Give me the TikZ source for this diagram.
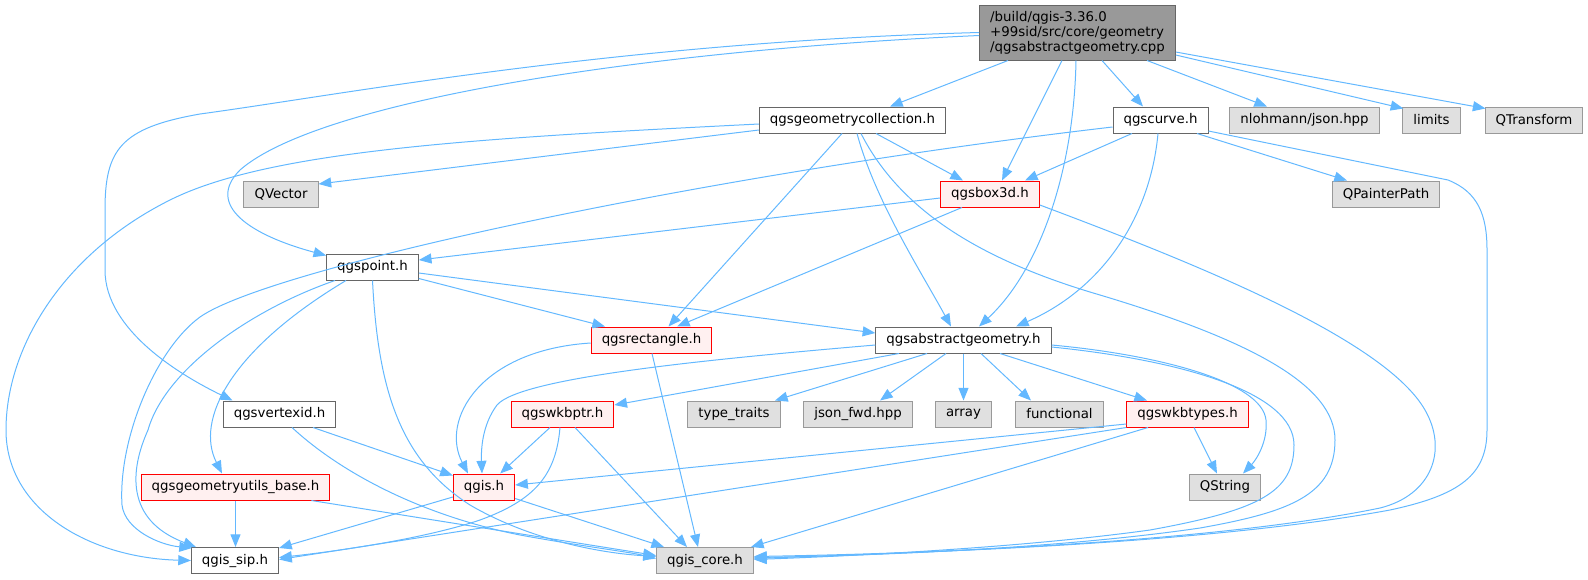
\documentclass[tikz,border=0pt]{standalone}
\usepackage{fontspec}
\setmainfont{DejaVu Sans}
\usepackage{tikz}
\usetikzlibrary{arrows.meta,calc}
\definecolor{edgeblue}{RGB}{99,184,255}
\definecolor{boxgray}{RGB}{102,102,102}
\definecolor{boxred}{RGB}{255,0,0}
\definecolor{boxpink}{RGB}{255,240,240}
\definecolor{sysgray}{RGB}{153,153,153}
\definecolor{syslight}{RGB}{224,224,224}
\definecolor{maingray}{RGB}{153,153,153}
\tikzstyle{arrow} = [line width=0.75pt, color=edgeblue, -{Triangle[length=9.5pt,width=7.5pt]}]
\tikzstyle{filebox} = [rectangle, draw=boxgray, fill=white, line width=0.75pt, minimum height=19.5pt, inner xsep=7.9pt, inner ysep=0pt, font=\fontsize{10}{11.25}\selectfont]
\tikzstyle{redbox} = [filebox, draw=boxred, fill=boxpink]
\tikzstyle{sysbox} = [filebox, draw=sysgray, fill=syslight]
\tikzstyle{mainbox} = [filebox, fill=maingray, align=left, minimum width=143.25pt, minimum height=41.25pt]

\begin{document}
\begin{tikzpicture}[x=0.75pt, y=-0.75pt]
\useasboundingbox (0,0) rectangle (1588,579);
% include files
\node[mainbox] (cpp) at (1077.5,32.5) {/build/qgis-3.36.0\\+99sid/src/core/geometry\\/qgsabstractgeometry.cpp};
\node[filebox] (geomcoll) at (852.5,120) {qgsgeometrycollection.h};
\node[filebox] (curve) at (1160.5,120) {qgscurve.h};
\node[sysbox] (json) at (1304.5,120) {nlohmann/json.hpp};
\node[sysbox] (limits) at (1431.5,120) {limits};
\node[sysbox] (qtransform) at (1534,120) {QTransform};
\node[sysbox] (qvector) at (281,194) {QVector};
\node[redbox] (box3d) at (990,194) {qgsbox3d.h};
\node[sysbox] (painterpath) at (1386,194) {QPainterPath};
\node[filebox] (point) at (372.5,267) {qgspoint.h};
\node[redbox] (rect) at (651.5,340) {qgsrectangle.h};
\node[filebox] (absgeom) at (963.5,340) {qgsabstractgeometry.h};
\node[filebox] (vertexid) at (279.5,414) {qgsvertexid.h};
\node[redbox] (wkbptr) at (562.5,414) {qgswkbptr.h};
\node[sysbox] (traits) at (734,414) {type\_traits};
\node[sysbox] (jsonfwd) at (858,414) {json\_fwd.hpp};
\node[sysbox] (array) at (963.5,414) {array};
\node[sysbox] (functional) at (1059.5,414) {functional};
\node[redbox] (wkbtypes) at (1187.5,414) {qgswkbtypes.h};
\node[redbox] (geomutils) at (235.5,487) {qgsgeometryutils\_base.h};
\node[redbox] (qgis) at (484,487) {qgis.h};
\node[sysbox] (qstring) at (1225,487) {QString};
\node[filebox] (sip) at (235,560.5) {qgis\_sip.h};
\node[sysbox] (core) at (705,560.5) {qgis\_core.h};

% from qgsabstractgeometry.cpp
\draw[arrow] ($(cpp.south)+(-69.5,0)$) -- ($(geomcoll.north)+(37.5,0)$);
\draw[arrow] ($(cpp.south)+(-15.5,0)$) -- ($(box3d.north)+(12,0)$);
\draw[arrow] ($(cpp.south)+(-1.5,0)$) .. controls (1074,170) and (1040,270) .. ($(absgeom.north)+(15.5,0)$);
\draw[arrow] ($(cpp.south)+(24.5,0)$) -- ($(curve.north)+(-17.5,0)$);
\draw[arrow] ($(cpp.south)+(69.5,0)$) -- ($(json.north)+(-37.5,0)$);
\draw[arrow] ($(cpp.east)+(0,22.5)$) -- ($(limits.north west)+(1,2)$);
\draw[arrow] ($(cpp.east)+(0,19.5)$) -- ($(qtransform.north west)+(1,2)$);
\draw[arrow] ($(cpp.west)+(0,3)$) .. controls (650,50) and (320,100) .. (240,170) .. controls (205,205) and (250,235) .. ($(point.north west)+(0,2)$);
\draw[arrow] (cpp.west) .. controls (620,42) and (340,95) .. (200,114) .. controls (120,128) and (105,150) .. (105,210) -- (105,270) .. controls (105,330) and (180,375) .. ($(vertexid.north)+(-47,0)$);

% from qgsgeometrycollection.h
\draw[arrow] ($(geomcoll.west)+(0,10)$) -- ($(qvector.east)+(0,-10)$);
\draw[arrow] ($(geomcoll.west)+(0,4)$) .. controls (480,138) and (270,150) .. (170,200) .. controls (60,255) and (6,350) .. (6,430) .. controls (6,510) and (90,558) .. (sip.west);
\draw[arrow] ($(geomcoll.south)+(23.5,0)$) -- ($(box3d.north)+(-27,0)$);
\draw[arrow] ($(geomcoll.south)+(-10.5,0)$) -- ($(rect.north)+(17,0)$);
\draw[arrow] ($(geomcoll.south)+(4.5,0)$) .. controls (875,200) and (920,270) .. ($(absgeom.north)+(-12.5,0)$);
\draw[arrow] ($(geomcoll.south)+(8.5,0)$) .. controls (900,210) and (980,260) .. (1100,295) .. controls (1250,340) and (1335,385) .. (1335,440) .. controls (1335,495) and (1290,512) .. (1200,528) .. controls (1050,550) and (850,556) .. ($(core.east)+(0,-3)$);

% from qgscurve.h
\draw[arrow] ($(curve.south)+(-28.5,0)$) -- ($(box3d.north)+(35,0)$);
\draw[arrow] ($(curve.south)+(-2.5,0)$) .. controls (1150,220) and (1100,290) .. ($(absgeom.north)+(52.5,0)$);
\draw[arrow] ($(curve.south)+(36.5,0)$) -- ($(painterpath.north)+(-39,0)$);
\draw[arrow] ($(curve.east)+(0,11)$) -- (1448,180) .. controls (1478,192) and (1487,215) .. (1487,250) -- (1487,430) .. controls (1487,475) and (1460,495) .. (1390,510) .. controls (1200,545) and (900,554) .. ($(core.east)+(0,-4)$);
\draw[arrow] ($(curve.west)+(0,7)$) .. controls (700,175) and (270,268) .. (200,317) .. controls (155,350) and (118,440) .. (122,505) .. controls (125,530) and (160,545) .. ($(sip.north west)+(1,1)$);

% from qgspoint.h
\draw[arrow] ($(point.south)+(-37.5,0)$) .. controls (250,310) and (165,370) .. (148,430) .. controls (130,470) and (125,520) .. ($(sip.north west)+(5,0)$);
\draw[arrow] ($(point.south)+(-26.5,0)$) .. controls (230,350) and (195,420) .. ($(geomutils.north)+(-13.5,0)$);
\draw[arrow] (point.south) .. controls (378,390) and (400,460) .. (470,505) .. controls (530,540) and (600,553) .. ($(core.west)+(0,-4)$);
\draw[arrow] ($(point.south east)+(0,-2)$) -- ($(rect.north)+(-46.5,0)$);
\draw[arrow] ($(point.east)+(0,6)$) -- ($(absgeom.west)+(0,-7)$);

% from qgsbox3d.h
\draw[arrow] ($(box3d.west)+(0,4)$) -- ($(point.east)+(0,-7)$);
\draw[arrow] ($(box3d.south)+(-28,0)$) -- ($(rect.north)+(25.5,0)$);
\draw[arrow] ($(box3d.east)+(0,11)$) .. controls (1200,265) and (1385,340) .. (1425,410) .. controls (1448,450) and (1432,495) .. (1380,508) .. controls (1200,545) and (900,553) .. ($(core.east)+(0,-2)$);

% from qgsrectangle.h
\draw[arrow] ($(rect.west)+(0,3)$) .. controls (480,350) and (440,420) .. ($(qgis.north)+(-16,0)$);
\draw[arrow] ($(rect.south)+(0.5,0)$) -- ($(core.north)+(-7,0)$);

% from qgsabstractgeometry.h
\draw[arrow] ($(absgeom.west)+(0,5)$) .. controls (700,360) and (520,378) .. (497,405) .. controls (482,425) and (481,450) .. ($(qgis.north)+(-2,0)$);
\draw[arrow] ($(absgeom.south)+(-64.5,0)$) -- ($(wkbptr.east)+(0,-9)$);
\draw[arrow] ($(absgeom.south)+(-36.5,0)$) -- ($(traits.north)+(41,0)$);
\draw[arrow] ($(absgeom.south)+(-17.5,0)$) -- ($(jsonfwd.north)+(22,0)$);
\draw[arrow] (absgeom.south) -- (array.north);
\draw[arrow] ($(absgeom.south)+(17.5,0)$) -- ($(functional.north)+(-28.5,0)$);
\draw[arrow] ($(absgeom.south)+(36.5,0)$) -- ($(wkbtypes.north)+(-40.5,0)$);
\draw[arrow] ($(absgeom.east)+(0,5)$) .. controls (1160,355) and (1262,382) .. (1266,420) .. controls (1268,442) and (1256,460) .. ($(qstring.north)+(18,0)$);
\draw[arrow] ($(absgeom.east)+(0,7)$) .. controls (1180,360) and (1294,392) .. (1294,445) .. controls (1294,492) and (1260,510) .. (1150,530) .. controls (1020,548) and (850,556) .. ($(core.east)+(0,-1)$);

% from qgsvertexid.h
\draw[arrow] ($(vertexid.south)+(33.5,0)$) -- ($(qgis.north west)+(0,2)$);
\draw[arrow] ($(vertexid.south)+(12.5,0)$) .. controls (340,472) and (420,515) .. (520,535) .. controls (580,546) and (630,552) .. ($(core.west)+(0,-2)$);

% from qgswkbptr.h
\draw[arrow] ($(wkbptr.south)+(-12.5,0)$) -- ($(qgis.north east)+(-15,0)$);
\draw[arrow] ($(wkbptr.south)+(-2.5,0)$) .. controls (556,475) and (535,500) .. (480,520) .. controls (420,540) and (330,552) .. ($(sip.east)+(0,-3)$);
\draw[arrow] ($(wkbptr.south)+(12.5,0)$) -- ($(core.north)+(-18,0)$);

% from qgswkbtypes.h
\draw[arrow] ($(wkbtypes.west)+(0,10)$) -- ($(qgis.east)+(0,-2)$);
\draw[arrow] (wkbtypes.south west) -- ($(sip.east)+(0,-1)$);
\draw[arrow] ($(wkbtypes.south)+(-39.5,0)$) -- ($(core.north east)+(-3,0)$);
\draw[arrow] ($(wkbtypes.south)+(6.5,0)$) -- ($(qstring.north)+(-8,0)$);

% from qgsgeometryutils_base.h
\draw[arrow] (geomutils.south) -- ($(sip.north)+(0.5,0)$);
\draw[arrow] ($(geomutils.south east)+(-19,0)$) -- ($(core.west)+(0,-5)$);

% from qgis.h
\draw[arrow] ($(qgis.west)+(0,10)$) -- ($(sip.north east)+(0,1)$);
\draw[arrow] ($(qgis.south east)+(0,-2)$) -- ($(core.north west)+(8,0)$);
\end{tikzpicture}
\end{document}
